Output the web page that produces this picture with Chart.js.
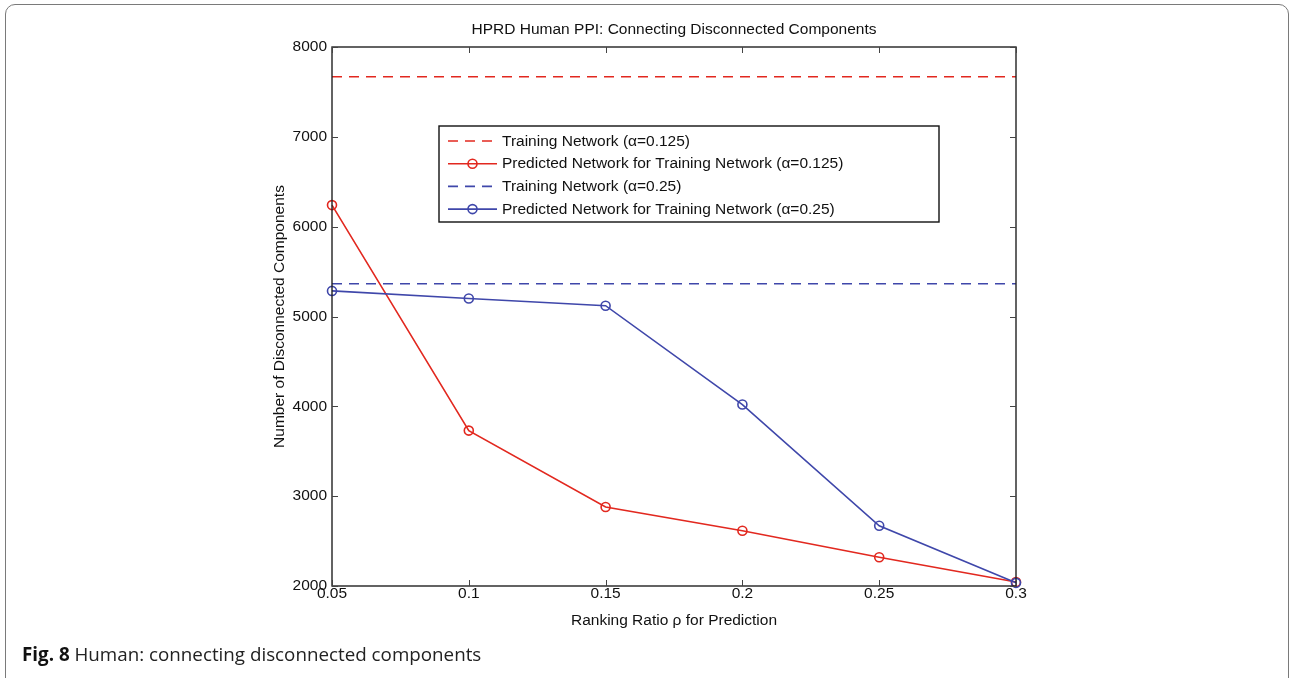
<!DOCTYPE html>
<html>
<head>
<meta charset="utf-8">
<script src="https://cdn.jsdelivr.net/npm/chart.js@4"></script>
<style>
  html, body { margin: 0; padding: 0; background: #fff; }
  body { width: 1292px; height: 678px; position: relative; overflow: hidden; }
  #card { position: absolute; left: 5px; top: 4px; width: 1284px; height: 700px; border: 1.5px solid #7a7a7a; border-radius: 10px; box-sizing: border-box; }
  #chart { position: absolute; left: 0; top: 0; }
  #caption { position: absolute; left: 22px; top: 641px; font-family: "Open Sans", sans-serif; font-size: 18.8px; color: #222; }
  #caption b { color: #111; }
</style>
</head>
<body>
<div id="card"></div>
<canvas id="chart" width="1292" height="678"></canvas>
<div id="caption"><b>Fig. 8</b> Human: connecting disconnected components</div>
<script>
// data
const ratios = [0.05, 0.1, 0.15, 0.2, 0.25, 0.3];
const predicted125 = [6240, 3730, 2880, 2615, 2320, 2045];
const predicted25 = [5285, 5200, 5120, 4020, 2670, 2035];
const training125 = 7670;
const training25 = 5365;
const xTicks = [0.05, 0.1, 0.15, 0.2, 0.25, 0.3];
const yTicks = [2000, 3000, 4000, 5000, 6000, 7000, 8000];

const RED = '#e2281f';
const BLUE = '#3f47aa';
const FONT = '"Liberation Sans", Arial, sans-serif';
const FS = 15.5;

function pts(vals) { return ratios.map((x, i) => ({ x: x, y: vals[i] })); }
function flat(v) { return [{ x: ratios[0], y: v }, { x: ratios[ratios.length - 1], y: v }]; }

const datasets = [
    { label: 'Training Network (\u03b1=0.125)', data: flat(training125), borderColor: RED, borderDash: [10, 7], borderWidth: 1.5, pointRadius: 0, order: 3 },
    { label: 'Predicted Network for Training Network (\u03b1=0.125)', data: pts(predicted125), borderColor: RED, borderWidth: 1.6, pointRadius: 4.5, pointBorderWidth: 1.6, pointBackgroundColor: 'rgba(0,0,0,0)', pointBorderColor: RED, order: 2 },
    { label: 'Training Network (\u03b1=0.25)', data: flat(training25), borderColor: BLUE, borderDash: [10, 7], borderWidth: 1.5, pointRadius: 0, order: 1 },
    { label: 'Predicted Network for Training Network (\u03b1=0.25)', data: pts(predicted25), borderColor: BLUE, borderWidth: 1.6, pointRadius: 4.5, pointBorderWidth: 1.6, pointBackgroundColor: 'rgba(0,0,0,0)', pointBorderColor: BLUE, order: 0 }
];

// box, inward ticks, title and legend in matlab style
const framePlugin = {
    id: 'frame',
    afterDatasetsDraw(chart) {
        const ctx = chart.ctx;
        const a = chart.chartArea;
        const xs = chart.scales.x, ys = chart.scales.y;
        ctx.save();
        ctx.strokeStyle = '#222';
        ctx.lineWidth = 1.4;
        ctx.strokeRect(a.left, a.top, a.right - a.left, a.bottom - a.top);
        ctx.strokeStyle = '#444';
        ctx.lineWidth = 1;
        ctx.beginPath();
        xTicks.forEach(v => {
            const p = Math.round(xs.getPixelForValue(v)) + 0.5;
            ctx.moveTo(p, a.bottom); ctx.lineTo(p, a.bottom - 6);
            ctx.moveTo(p, a.top); ctx.lineTo(p, a.top + 6);
        });
        yTicks.forEach(v => {
            const p = Math.round(ys.getPixelForValue(v)) + 0.5;
            ctx.moveTo(a.left, p); ctx.lineTo(a.left + 6, p);
            ctx.moveTo(a.right, p); ctx.lineTo(a.right - 6, p);
        });
        ctx.stroke();

        // title
        ctx.fillStyle = '#111';
        ctx.font = FS + 'px ' + FONT;
        ctx.textAlign = 'center';
        ctx.textBaseline = 'middle';
        ctx.fillText('HPRD Human PPI: Connecting Disconnected Components', (a.left + a.right) / 2, 30);

        // legend
        const lx = 439, ly = 126, lw = 500, lh = 96;
        ctx.fillStyle = '#fff';
        ctx.fillRect(lx, ly, lw, lh);
        ctx.strokeStyle = '#111';
        ctx.lineWidth = 1.4;
        ctx.strokeRect(lx, ly, lw, lh);
        chart.data.datasets.forEach((ds, i) => {
            const y = ly + 15 + i * 22.7;
            ctx.strokeStyle = ds.borderColor;
            ctx.lineWidth = 1.6;
            ctx.setLineDash(ds.borderDash || []);
            ctx.beginPath();
            ctx.moveTo(448, y); ctx.lineTo(497, y);
            ctx.stroke();
            ctx.setLineDash([]);
            if (ds.pointRadius) {
                ctx.beginPath();
                ctx.arc(472.5, y, 4.5, 0, Math.PI * 2);
                ctx.stroke();
            }
            ctx.fillStyle = '#111';
            ctx.textAlign = 'left';
            ctx.fillText(ds.label, 502, y + 0.5);
        });
        ctx.restore();
    }
};

new Chart(document.getElementById('chart'), {
    type: 'line',
    data: { datasets: datasets },
    options: {
        responsive: false,
        animation: false,
        devicePixelRatio: 1,
        layout: { padding: { left: 270, right: 276, top: 47, bottom: 48 } },
        elements: { line: { tension: 0 } },
        datasets: { line: { clip: false } },
        plugins: { legend: { display: false }, tooltip: { enabled: false }, title: { display: false } },
        scales: {
            x: {
                type: 'linear', min: 0.05, max: 0.3,
                afterFit: s => { s.height = 44; },
                afterBuildTicks: s => { s.ticks = xTicks.map(v => ({ value: v })); },
                grid: { display: false, drawTicks: false },
                border: { display: false },
                ticks: { color: '#111', padding: 0, maxRotation: 0, autoSkip: false, font: { family: FONT, size: FS, lineHeight: 1 }, callback: v => String(v) },
                title: { display: true, text: 'Ranking Ratio \u03c1 for Prediction', color: '#111', padding: 0, font: { family: FONT, size: FS } }
            },
            y: {
                type: 'linear', min: 2000, max: 8000,
                afterFit: s => { s.width = 62; },
                afterBuildTicks: s => { s.ticks = yTicks.map(v => ({ value: v })); },
                grid: { display: false, drawTicks: false },
                border: { display: false },
                ticks: { color: '#111', padding: 5, autoSkip: false, font: { family: FONT, size: FS }, callback: v => String(v) },
                title: { display: true, text: 'Number of Disconnected Components', color: '#111', padding: 0, font: { family: FONT, size: FS } }
            }
        }
    },
    plugins: [framePlugin]
});
</script>
</body>
</html>
